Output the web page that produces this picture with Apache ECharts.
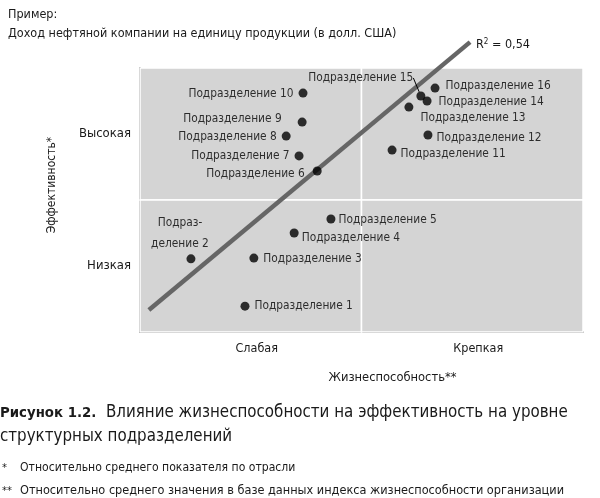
<!DOCTYPE html>
<html>
<head>
<meta charset="utf-8">
<script src="https://cdn.jsdelivr.net/npm/echarts@6/dist/echarts.min.js"></script>
<style>
  html, body { margin: 0; padding: 0; background: #fff; }
  #chart { width: 600px; height: 498px; }
</style>
</head>
<body>
<div id="chart"></div>
<script>
var FONT = "'DejaVu Sans Condensed', 'Roboto', sans-serif"

// подразделения: жизнеспособность (x) и эффективность (y), 0..100
var unitNames = ['Подразделение 1', 'Подраз-\nделение 2', 'Подразделение 3', 'Подразделение 4',
  'Подразделение 5', 'Подразделение 6', 'Подразделение 7', 'Подразделение 8',
  'Подразделение 9', 'Подразделение 10', 'Подразделение 11', 'Подразделение 12',
  'Подразделение 13', 'Подразделение 14', 'Подразделение 15', 'Подразделение 16']
var unitX = [23.7, 11.5, 25.7, 34.8, 43.1, 40.0, 35.9, 33.0, 36.6, 36.8, 56.9, 65.0, 60.7, 64.8, 63.4, 66.6]
var unitY = [9.8, 27.7, 28.0, 37.5, 42.8, 61.0, 66.7, 74.2, 79.5, 90.5, 68.9, 74.6, 85.2, 87.5, 89.4, 92.4]

// линия тренда (концы)
var trendX = [2.0, 74.5]
var trendY = [8.3, 109.8]

var xLevels = ['Слабая', 'Крепкая']
var yLevels = ['Низкая', 'Высокая']

// где ставить подпись у каждой точки и насколько сдвинуть
var labelPos = ['right', 'top', 'right', 'right', 'right', 'left', 'left', 'left',
  'left', 'left', 'right', 'right', [16, 6], 'right', 'left', 'right']
var labelShift = [[0, 0], [-11, 5], [0, 1], [-2, 5], [-2, 1], [-3, 3], [0, 0], [0, 1],
  [-11, -3], [0, 1], [-1, 4], [-1, 3], [0, -1], [2, 1], [2, -18], [1, -2]]

var points = unitX.map(function (x, i) {
  var item = {
    value: [x, unitY[i]],
    label: { position: labelPos[i] }
  }
  if (i === 14) {
    item.labelLine = { show: true, lineStyle: { color: '#000', width: 1 } }
  }
  return item
})

var chart = echarts.init(document.getElementById('chart'))

var option = {
  backgroundColor: '#fff',
  textStyle: { fontFamily: FONT },
  animation: false,
  title: [
    {
      text: 'Пример:\nДоход нефтяной компании на единицу продукции (в долл. США)',
      left: 8, top: 5, padding: 0,
      textStyle: { fontFamily: FONT, fontSize: 12.5, fontWeight: 'normal', color: '#1a1a1a', lineHeight: 19 }
    },
    {
      text: 'R{sup|2} = 0,54',
      left: 476, top: 38, padding: 0,
      textStyle: {
        fontFamily: FONT, fontSize: 12.5, fontWeight: 'normal', color: '#1a1a1a',
        rich: { sup: { fontFamily: FONT, fontSize: 8, verticalAlign: 'top', padding: [0, 0, 6, 0], color: '#1a1a1a' } }
      }
    },
    {
      text: '{b|Рисунок 1.2.}  Влияние жизнеспособности на эффективность на уровне\nструктурных подразделений',
      left: 0, top: 401, padding: 0,
      textStyle: {
        fontFamily: FONT, fontSize: 16.8, fontWeight: 'normal', color: '#1a1a1a', lineHeight: 24,
        rich: { b: { fontFamily: FONT, fontSize: 14.8, fontWeight: 'bold', color: '#1a1a1a' } }
      }
    },
    {
      text: '*\n**',
      left: 2, top: 457, padding: 0,
      textStyle: { fontFamily: FONT, fontSize: 11, fontWeight: 'normal', color: '#1a1a1a', lineHeight: 23 }
    },
    {
      text: '{a|Относительно среднего показателя по отрасли}\n{b|Относительно среднего значения в базе данных индекса жизнеспособности организации}',
      left: 20, top: 456, padding: 0,
      textStyle: {
        fontFamily: FONT, fontSize: 12, fontWeight: 'normal', color: '#1a1a1a', lineHeight: 23,
        rich: {
          a: { fontFamily: FONT, fontSize: 12.1, color: '#1a1a1a', lineHeight: 23 },
          b: { fontFamily: FONT, fontSize: 12.6, color: '#1a1a1a', lineHeight: 23 }
        }
      }
    }
  ],
  grid: { left: 140, right: 17, top: 68, bottom: 166 },
  xAxis: [
    {
      type: 'value', min: 0, max: 100, interval: 25,
      axisLine: { show: false }, axisTick: { show: false }, splitLine: { show: false },
      axisLabel: {
        margin: 10, fontSize: 12.5, color: '#1a1a1a', padding: [0, 0, 0, 12],
        formatter: function (v) { return v === 25 ? xLevels[0] : v === 75 ? xLevels[1] : '' }
      }
    },
    {
      type: 'value', min: 0, max: 100, position: 'bottom', offset: 27,
      axisLine: { show: true, lineStyle: { color: '#666', width: 2 } },
      axisTick: { show: false }, axisLabel: { show: false }, splitLine: { show: false },
      name: 'Жизнеспособность**', nameLocation: 'middle', nameGap: 12,
      nameTextStyle: { fontFamily: FONT, fontSize: 12.8, color: '#1a1a1a', padding: [0, 0, 0, 62] }
    }
  ],
  yAxis: [
    {
      type: 'value', min: 0, max: 100, interval: 25,
      axisLine: { show: false }, axisTick: { show: false }, splitLine: { show: false },
      axisLabel: {
        margin: 9, fontSize: 13, color: '#1a1a1a',
        formatter: function (v) { return v === 25 ? yLevels[0] : v === 75 ? yLevels[1] : '' }
      }
    },
    {
      type: 'value', min: 0, max: 100, position: 'left', offset: 72,
      axisLine: { show: true, lineStyle: { color: '#666', width: 2 } },
      axisTick: { show: false }, axisLabel: { show: false }, splitLine: { show: false },
      name: 'Эффективность*', nameLocation: 'middle', nameGap: 10, nameRotate: 90,
      nameTextStyle: { fontFamily: FONT, fontSize: 12, color: '#1a1a1a', padding: [0, 0, 0, 30] }
    }
  ],
  series: [
    {
      type: 'scatter',
      silent: true,
      symbolSize: 0,
      data: [],
      markArea: {
        silent: true,
        itemStyle: { color: '#d4d4d4', borderColor: '#fff', borderWidth: 1.5 },
        data: [
          [{ xAxis: 0, yAxis: 50 }, { xAxis: 50, yAxis: 100 }],
          [{ xAxis: 50, yAxis: 50 }, { xAxis: 100, yAxis: 100 }],
          [{ xAxis: 0, yAxis: 0 }, { xAxis: 50, yAxis: 50 }],
          [{ xAxis: 50, yAxis: 0 }, { xAxis: 100, yAxis: 50 }]
        ]
      }
    },
    {
      type: 'line',
      data: trendX.map(function (x, i) { return [x, trendY[i]] }),
      symbol: 'none',
      clip: false,
      z: 3,
      lineStyle: { color: '#666', width: 4.5, cap: 'butt' }
    },
    {
      type: 'scatter',
      data: points,
      symbolSize: 9,
      z: 5,
      clip: false,
      itemStyle: { color: '#000' },
      label: {
        show: true,
        distance: 5,
        fontFamily: FONT,
        fontSize: 11.8,
        color: '#000',
        lineHeight: 21,
        formatter: function (p) { return unitNames[p.dataIndex] }
      },
      labelLayout: function (params) {
        var s = labelShift[params.dataIndex]
        return { dx: s[0], dy: s[1] }
      }
    }
  ]
}

chart.setOption(option)
</script>
</body>
</html>
